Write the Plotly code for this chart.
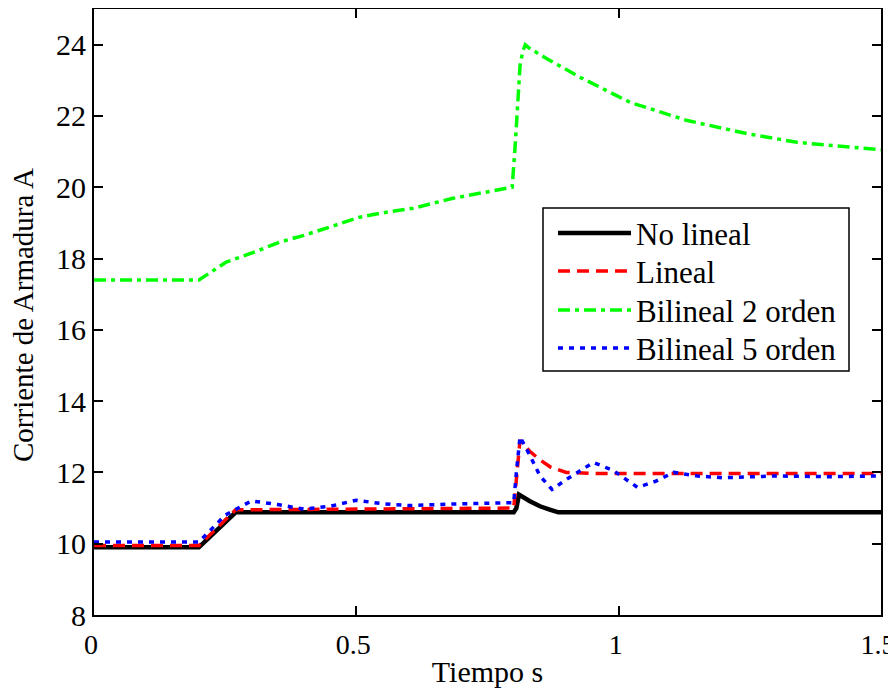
import plotly.graph_objects as go

# ---- data ----
t_nolineal = [0, 0.2, 0.27, 0.8, 0.805, 0.81, 0.83, 0.85, 0.87, 0.885, 1.5]
v_nolineal = [9.9, 9.9, 10.88, 10.88, 11.0, 11.38, 11.2, 11.05, 10.95, 10.88, 10.88]

t_lineal = [0, 0.2, 0.27, 0.5, 0.8, 0.805, 0.812, 0.83, 0.85, 0.87, 0.9, 0.95, 1.5]
v_lineal = [9.95, 9.95, 10.95, 10.98, 11.0, 11.8, 12.9, 12.6, 12.35, 12.15, 12.0, 11.97, 11.97]

t_bil2 = [0, 0.2, 0.252, 0.3, 0.354, 0.4, 0.449, 0.506, 0.55, 0.608, 0.684, 0.736,
          0.797, 0.802, 0.807, 0.812, 0.817, 0.822, 0.83, 0.864, 0.927, 1.022, 1.131,
          1.246, 1.34, 1.42, 1.5]
v_bil2 = [17.4, 17.4, 17.9, 18.15, 18.46, 18.65, 18.88, 19.16, 19.28, 19.41, 19.69, 19.83,
          20.0, 21.0, 22.4, 23.4, 23.8, 24.0, 23.9, 23.6, 23.08, 22.38, 21.87,
          21.5, 21.26, 21.15, 21.05]

t_bil5 = [0, 0.2, 0.25, 0.3, 0.35, 0.4, 0.45, 0.5, 0.55, 0.6, 0.7, 0.8, 0.805, 0.812,
          0.83, 0.85, 0.873, 0.9, 0.952, 0.99, 1.036, 1.07, 1.105, 1.15, 1.2, 1.3, 1.4, 1.5]
v_bil5 = [10.05, 10.05, 10.8, 11.2, 11.1, 10.97, 11.05, 11.22, 11.12, 11.07, 11.12, 11.15,
          12.0, 13.0, 12.5, 11.9, 11.52, 11.8, 12.28, 12.05, 11.58, 11.75, 12.0, 11.9,
          11.85, 11.9, 11.88, 11.9]

names = ["No lineal", "Lineal", "Bilineal 2 orden", "Bilineal 5 orden"]
x_ticks = [0, 0.5, 1, 1.5]
x_labels = ["0", "0.5", "1", "1.5"]
y_ticks = [8, 10, 12, 14, 16, 18, 20, 22, 24]
x_title = "Tiempo s"
y_title = "Corriente de Armadura A"

styles = [
    dict(color="#000000", width=4.5, dash="solid"),
    dict(color="#ff0000", width=3.5, dash="12px,7px"),
    dict(color="#00ff00", width=3.5, dash="12px,5px,4px,5px"),
    dict(color="#0000ff", width=3.5, dash="5px,6px"),
]

series = [(t_nolineal, v_nolineal), (t_lineal, v_lineal), (t_bil2, v_bil2), (t_bil5, v_bil5)]

FONT = "Liberation Serif"

fig = go.Figure()
for idx in [2, 0, 1, 3]:
    t, v = series[idx]
    fig.add_trace(go.Scatter(x=t, y=v, mode="lines", name=names[idx],
                             line=styles[idx], showlegend=False))

# page body has an 8px margin; figure is placed at (8, 8) in the window
OFF = 8
FW, FH = 896 - OFF, 696 - OFF
# plot area in window pixels
L, R, T, B = 94, 881, 9, 615
W, H = R - L, B - T
def px(x):
    return (x - L) / W
def py(y):
    return (B - y) / H

shapes = [dict(type="rect", xref="paper", yref="paper",
               x0=px(543), x1=px(849), y0=py(371), y1=py(208),
               line=dict(color="black", width=1.5), fillcolor="white", layer="above")]
annotations = []
rows = [233, 271, 310, 348]
for i, name in enumerate(names):
    shapes.append(dict(type="line", xref="paper", yref="paper",
                       x0=px(558), x1=px(631), y0=py(rows[i]), y1=py(rows[i]),
                       line=styles[i], layer="above"))
    annotations.append(dict(text=name, xref="paper", yref="paper",
                            x=px(634), y=py(rows[i] + 1), xanchor="left", yanchor="middle",
                            showarrow=False, font=dict(family=FONT, size=31, color="black")))

# y-axis title
annotations.append(dict(text=y_title, xref="paper", yref="paper", textangle=-90,
                        x=px(23), y=py(315), xanchor="center", yanchor="middle",
                        showarrow=False, font=dict(family=FONT, size=29, color="black")))

fig.update_layout(
    width=FW, height=FH,
    margin=dict(l=L - OFF, r=896 - R, t=T - OFF, b=696 - B),
    paper_bgcolor="white", plot_bgcolor="white",
    font=dict(family=FONT, size=29, color="black"),
    shapes=shapes, annotations=annotations,
    showlegend=False,
)
fig.update_xaxes(range=[0, 1.5], tickvals=x_ticks, ticktext=x_labels,
                 ticks="inside", ticklen=9, tickwidth=1.5, tickcolor="black",
                 showline=True, linecolor="black", linewidth=2, mirror="ticks",
                 showgrid=False, zeroline=False, automargin=False,
                 ticklabeloverflow="allow", ticklabelstandoff=3, ticklabelshift=-3,
                 tickfont=dict(family=FONT, size=28),
                 title=dict(text=x_title, font=dict(family=FONT, size=30), standoff=2))
fig.update_yaxes(range=[8, 25], tickvals=y_ticks,
                 ticks="inside", ticklen=9, tickwidth=1.5, tickcolor="black",
                 showline=True, linecolor="black", linewidth=2, mirror="ticks",
                 showgrid=False, zeroline=False, automargin=False,
                 ticklabeloverflow="allow",
                 tickfont=dict(family=FONT, size=30), ticklabelstandoff=0)

fig.write_html("out.html")
